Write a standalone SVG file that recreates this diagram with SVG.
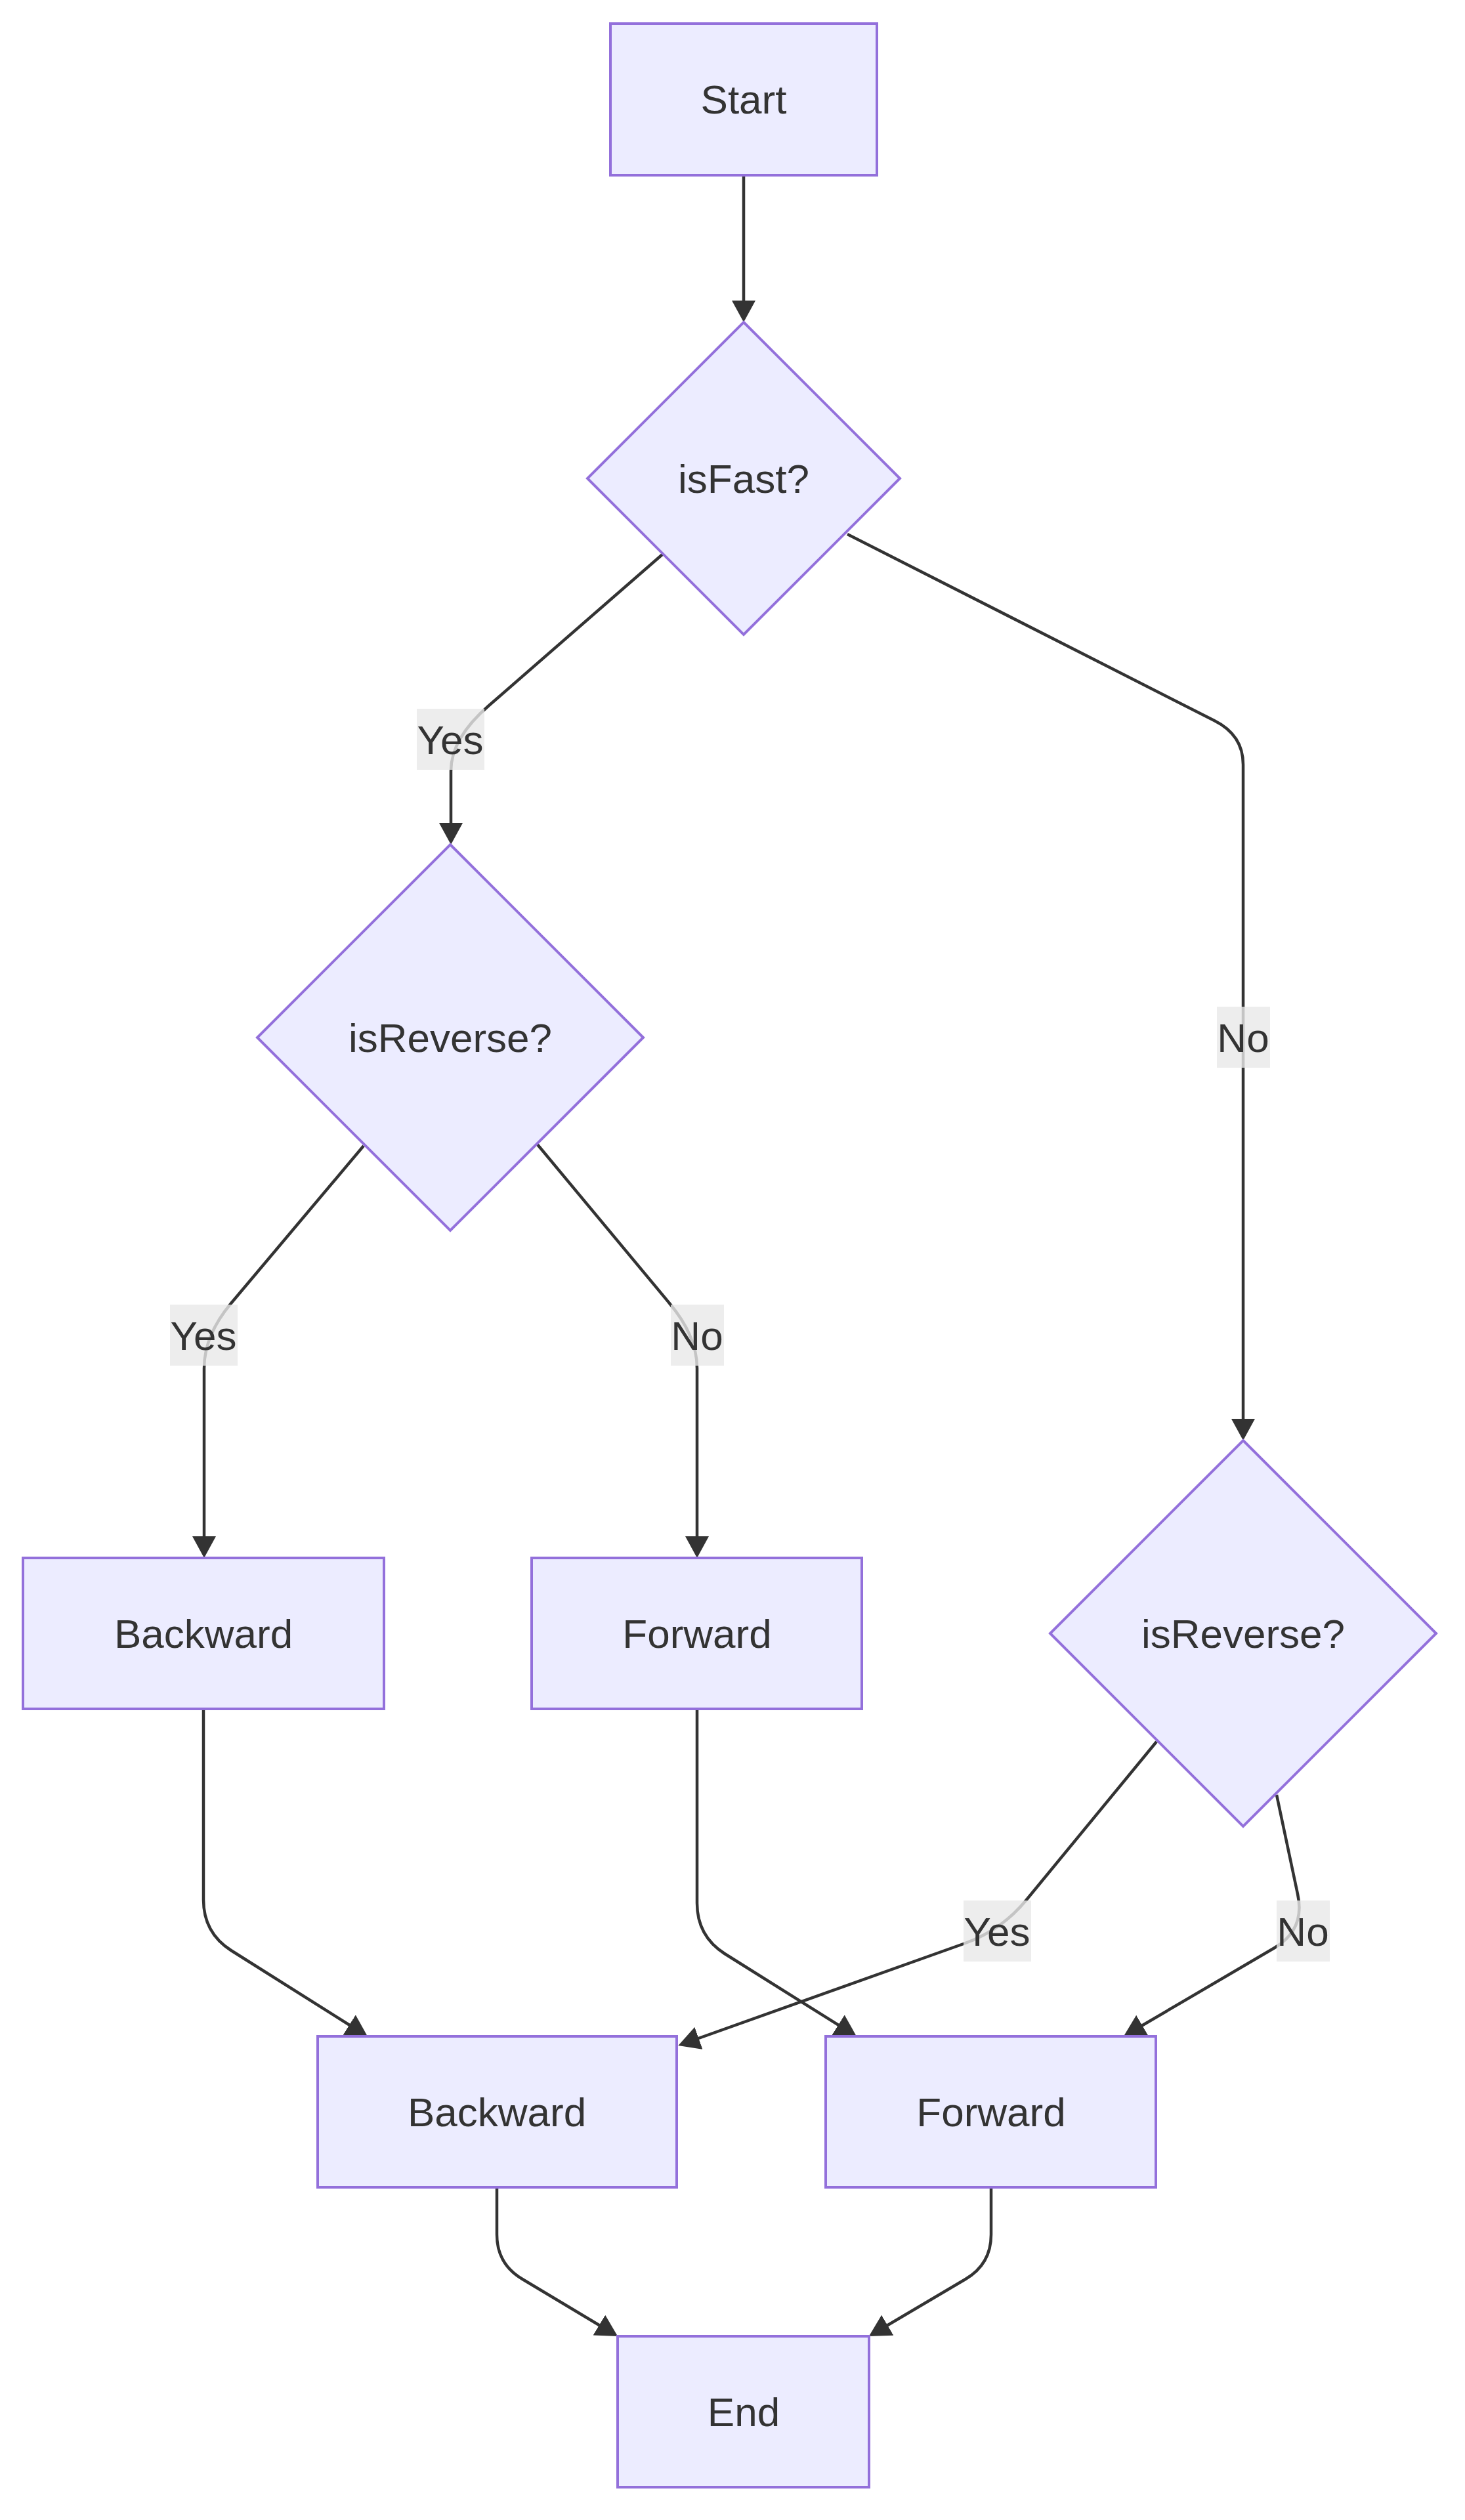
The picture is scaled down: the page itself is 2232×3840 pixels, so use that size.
<svg xmlns="http://www.w3.org/2000/svg" width="2232" height="3840" viewBox="0 0 2232 3840">
<style>
.node rect, .node polygon { fill: #ECECFF; stroke: #9370DB; stroke-width: 4; }
.node text, .elabel text { font-family: "Liberation Sans", Arial, sans-serif; font-size: 62px; fill: #333333; text-anchor: middle; }
.edge { fill: none; stroke: #333333; stroke-width: 4.5; }
.elabel rect { fill: rgba(232,232,232,0.8); }
</style>
<defs>
<marker id="arrow" viewBox="0 0 10 10" refX="8.18" refY="5" markerUnits="userSpaceOnUse" markerWidth="33" markerHeight="36" orient="auto" preserveAspectRatio="none">
<path d="M0,0 L10,5 L0,10 z" fill="#333333"/>
</marker>
</defs>
<rect x="0" y="0" width="2232" height="3840" fill="#ffffff"/>
<g id="connectors">
<path class="edge" marker-end="url(#arrow)" d="M1133,267 L1133,485"/>
<path class="edge" marker-end="url(#arrow)" d="M1009,845 L745,1075 Q687,1125 687,1175 L687,1281"/>
<path class="edge" marker-end="url(#arrow)" d="M1291,814 L1850,1098 Q1894,1120 1894,1165 L1894,2189"/>
<path class="edge" marker-end="url(#arrow)" d="M554,1746 L352,1986 Q311,2035 311,2085 L311,2368"/>
<path class="edge" marker-end="url(#arrow)" d="M818,1743 L1020,1986 Q1062,2036 1062,2085 L1062,2368"/>
<path class="edge" marker-end="url(#arrow)" d="M310,2604 L310,2895 Q310,2945 352,2972 L555,3100"/>
<path class="edge" marker-end="url(#arrow)" d="M1062,2604 L1062,2900 Q1062,2950 1104,2977 L1300,3100"/>
<path class="edge" marker-end="url(#arrow)" d="M1762,2654 L1563,2896 Q1525,2942 1468,2962 L1039,3115"/>
<path class="edge" marker-end="url(#arrow)" d="M1945,2735 L1977,2886 Q1989,2940 1942,2968 L1717,3100"/>
<path class="edge" marker-end="url(#arrow)" d="M757,3333 L757,3405 Q757,3450 796,3473 L936,3557"/>
<path class="edge" marker-end="url(#arrow)" d="M1510,3333 L1510,3405 Q1510,3450 1471,3473 L1329,3557"/>
</g>
<g id="edge-labels">
<g class="elabel" id="label-yes-1"><rect x="635" y="1080" width="103" height="93"/><text x="686" y="1149">Yes</text></g>
<g class="elabel" id="label-no-1"><rect x="1854" y="1534" width="81" height="93"/><text x="1894" y="1603">No</text></g>
<g class="elabel" id="label-yes-2"><rect x="259" y="1988" width="103" height="93"/><text x="310" y="2057">Yes</text></g>
<g class="elabel" id="label-no-2"><rect x="1022" y="1988" width="81" height="93"/><text x="1062" y="2057">No</text></g>
<g class="elabel" id="label-yes-3"><rect x="1468" y="2896" width="103" height="93"/><text x="1519" y="2965">Yes</text></g>
<g class="elabel" id="label-no-3"><rect x="1945" y="2896" width="81" height="93"/><text x="1985" y="2965">No</text></g>
</g>
<g class="node" id="start"><rect x="930" y="36" width="406" height="231"/><text x="1133" y="173">Start</text></g>
<g class="node" id="isFast"><polygon points="1133,491 1371,729 1133,967 895,729"/><text x="1133" y="751">isFast?</text></g>
<g class="node" id="isReverse1"><polygon points="686,1287 980,1581 686,1875 392,1581"/><text x="686" y="1603">isReverse?</text></g>
<g class="node" id="isReverse2"><polygon points="1894,2195 2188,2489 1894,2783 1600,2489"/><text x="1894" y="2511">isReverse?</text></g>
<g class="node" id="backward1"><rect x="35" y="2374" width="550" height="230"/><text x="310" y="2511">Backward</text></g>
<g class="node" id="forward1"><rect x="810" y="2374" width="503" height="230"/><text x="1062" y="2511">Forward</text></g>
<g class="node" id="backward2"><rect x="484" y="3103" width="547" height="230"/><text x="757" y="3240">Backward</text></g>
<g class="node" id="forward2"><rect x="1258" y="3103" width="503" height="230"/><text x="1510" y="3240">Forward</text></g>
<g class="node" id="end"><rect x="941" y="3560" width="383" height="230"/><text x="1133" y="3697">End</text></g>
</svg>
